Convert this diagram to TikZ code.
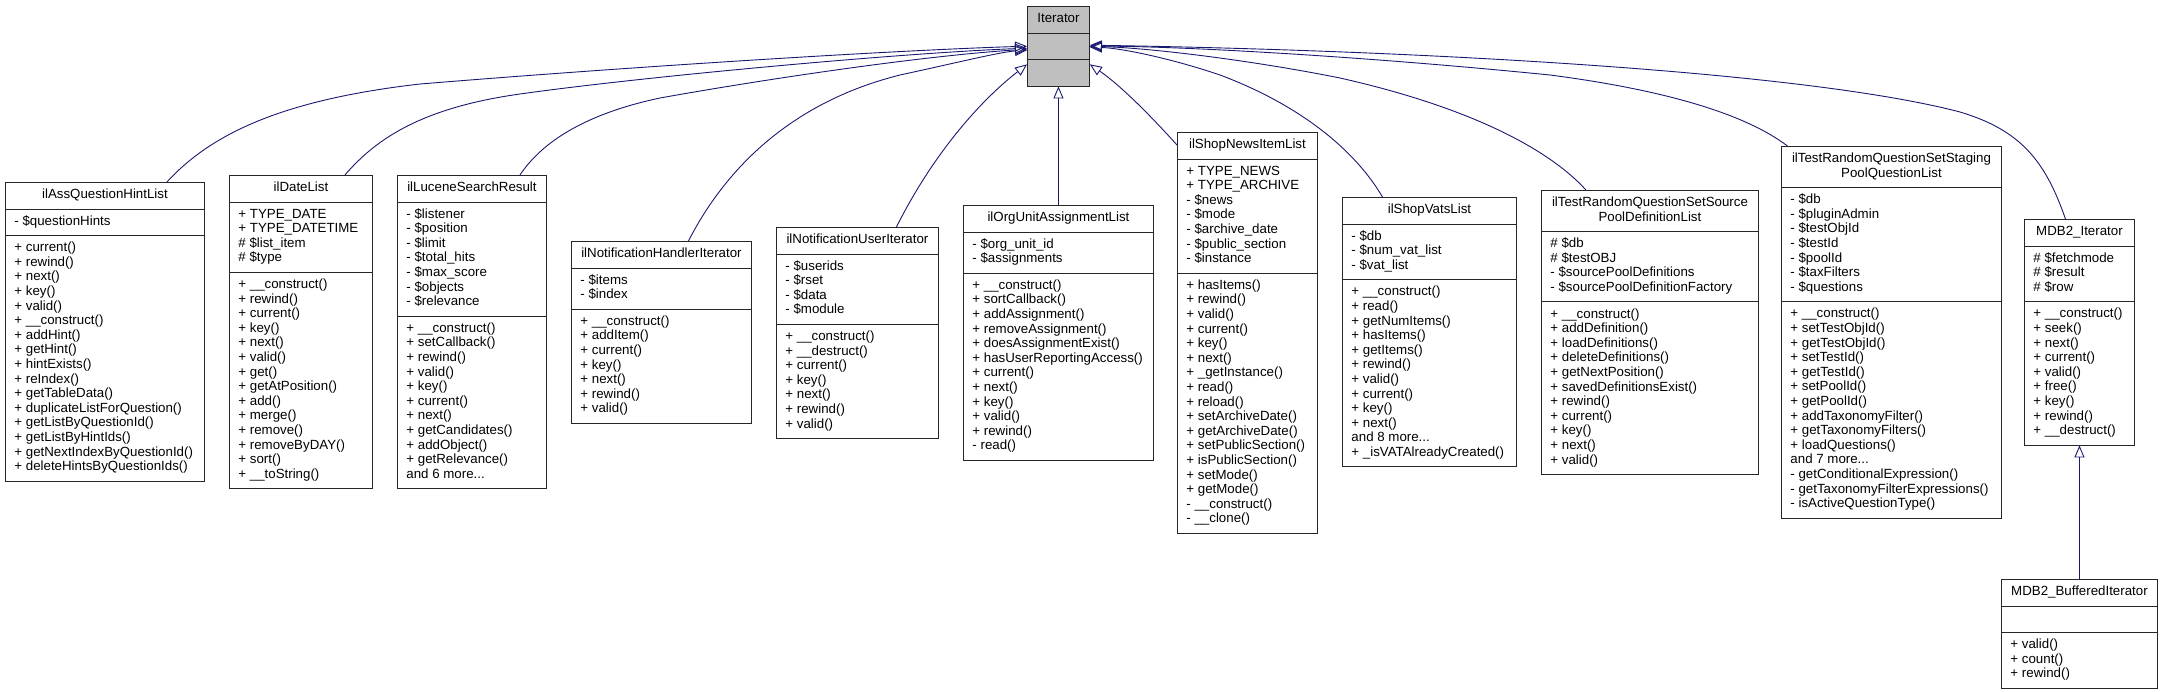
\documentclass[tikz,border=0pt]{standalone}
\usepackage{fontspec}
\setmainfont{Liberation Sans}
\usetikzlibrary{shapes.multipart,arrows.meta}

\definecolor{edgeblue}{HTML}{191970}
\definecolor{basegray}{HTML}{BFBFBF}

\newcommand{\classtitle}[1]{\begin{tabular}{@{}c@{}}#1\end{tabular}}
\newcommand{\classmembers}[1]{\begin{tabular}{@{}l@{}}#1\end{tabular}}

\tikzset{
	classbox/.style={rectangle split, rectangle split parts=3, rectangle split part align={center,left,left}, draw=black!85, line width=0.9pt, fill=white, anchor=north west, inner xsep=9pt, inner ysep=5.5pt, font=\fontsize{13.3}{14.6}\selectfont},
	derives/.style={draw=edgeblue, line width=0.9pt, -{Triangle[open,length=12pt,width=10pt]}}
}

\begin{document}
\begin{tikzpicture}[x=1pt, y=-1pt]
		
		\useasboundingbox (0,0) rectangle (2163,691);
		
		% Base class
		\node (iterator) at (1027,6) [classbox, fill=basegray, minimum width=62pt]{\classtitle{Iterator}\nodepart{two}\strut\nodepart{three}\strut};
		
		% Derived classes, left of the base class
		\node (hintList) at (5,182) [classbox, minimum width=199pt]{\classtitle{ilAssQuestionHintList}\nodepart{two}\classmembers{- \$questionHints}\nodepart{three}\classmembers{+ current()\\+ rewind()\\+ next()\\+ key()\\+ valid()\\+ \_\_construct()\\+ addHint()\\+ getHint()\\+ hintExists()\\+ reIndex()\\+ getTableData()\\+ duplicateListForQuestion()\\+ getListByQuestionId()\\+ getListByHintIds()\\+ getNextIndexByQuestionId()\\+ deleteHintsByQuestionIds()}};
		\node (dateList) at (229,175) [classbox, minimum width=143pt]{\classtitle{ilDateList}\nodepart{two}\classmembers{+ TYPE\_DATE\\+ TYPE\_DATETIME\\\# \$list\_item\\\# \$type}\nodepart{three}\classmembers{+ \_\_construct()\\+ rewind()\\+ current()\\+ key()\\+ next()\\+ valid()\\+ get()\\+ getAtPosition()\\+ add()\\+ merge()\\+ remove()\\+ removeByDAY()\\+ sort()\\+ \_\_toString()}};
		\node (luceneResult) at (397,175) [classbox, minimum width=149pt]{\classtitle{ilLuceneSearchResult}\nodepart{two}\classmembers{- \$listener\\- \$position\\- \$limit\\- \$total\_hits\\- \$max\_score\\- \$objects\\- \$relevance}\nodepart{three}\classmembers{+ \_\_construct()\\+ setCallback()\\+ rewind()\\+ valid()\\+ key()\\+ current()\\+ next()\\+ getCandidates()\\+ addObject()\\+ getRelevance()\\and 6 more...}};
		\node (handlerIter) at (571,241) [classbox, minimum width=180pt]{\classtitle{ilNotificationHandlerIterator}\nodepart{two}\classmembers{- \$items\\- \$index}\nodepart{three}\classmembers{+ \_\_construct()\\+ addItem()\\+ current()\\+ key()\\+ next()\\+ rewind()\\+ valid()}};
		\node (userIter) at (776,227) [classbox, minimum width=162pt]{\classtitle{ilNotificationUserIterator}\nodepart{two}\classmembers{- \$userids\\- \$rset\\- \$data\\- \$module}\nodepart{three}\classmembers{+ \_\_construct()\\+ \_\_destruct()\\+ current()\\+ key()\\+ next()\\+ rewind()\\+ valid()}};
		\node (orgUnitList) at (963,205) [classbox, minimum width=190pt]{\classtitle{ilOrgUnitAssignmentList}\nodepart{two}\classmembers{- \$org\_unit\_id\\- \$assignments}\nodepart{three}\classmembers{+ \_\_construct()\\+ sortCallback()\\+ addAssignment()\\+ removeAssignment()\\+ doesAssignmentExist()\\+ hasUserReportingAccess()\\+ current()\\+ next()\\+ key()\\+ valid()\\+ rewind()\\- read()}};
		
		% Derived classes, right of the base class
		\node (newsList) at (1177,132) [classbox, minimum width=140pt]{\classtitle{ilShopNewsItemList}\nodepart{two}\classmembers{+ TYPE\_NEWS\\+ TYPE\_ARCHIVE\\- \$news\\- \$mode\\- \$archive\_date\\- \$public\_section\\- \$instance}\nodepart{three}\classmembers{+ hasItems()\\+ rewind()\\+ valid()\\+ current()\\+ key()\\+ next()\\+ \_getInstance()\\+ read()\\+ reload()\\+ setArchiveDate()\\+ getArchiveDate()\\+ setPublicSection()\\+ isPublicSection()\\+ setMode()\\+ getMode()\\- \_\_construct()\\- \_\_clone()}};
		\node (vatsList) at (1342,197) [classbox, minimum width=174pt]{\classtitle{ilShopVatsList}\nodepart{two}\classmembers{- \$db\\- \$num\_vat\_list\\- \$vat\_list}\nodepart{three}\classmembers{+ \_\_construct()\\+ read()\\+ getNumItems()\\+ hasItems()\\+ getItems()\\+ rewind()\\+ valid()\\+ current()\\+ key()\\+ next()\\and 8 more...\\+ \_isVATAlreadyCreated()}};
		\node (sourcePoolList) at (1541,190) [classbox, minimum width=217pt]{\classtitle{ilTestRandomQuestionSetSource\\PoolDefinitionList}\nodepart{two}\classmembers{\# \$db\\\# \$testOBJ\\- \$sourcePoolDefinitions\\- \$sourcePoolDefinitionFactory}\nodepart{three}\classmembers{+ \_\_construct()\\+ addDefinition()\\+ loadDefinitions()\\+ deleteDefinitions()\\+ getNextPosition()\\+ savedDefinitionsExist()\\+ rewind()\\+ current()\\+ key()\\+ next()\\+ valid()}};
		\node (stagingPoolList) at (1781,146) [classbox, minimum width=220pt]{\classtitle{ilTestRandomQuestionSetStaging\\PoolQuestionList}\nodepart{two}\classmembers{- \$db\\- \$pluginAdmin\\- \$testObjId\\- \$testId\\- \$poolId\\- \$taxFilters\\- \$questions}\nodepart{three}\classmembers{+ \_\_construct()\\+ setTestObjId()\\+ getTestObjId()\\+ setTestId()\\+ getTestId()\\+ setPoolId()\\+ getPoolId()\\+ addTaxonomyFilter()\\+ getTaxonomyFilters()\\+ loadQuestions()\\and 7 more...\\- getConditionalExpression()\\- getTaxonomyFilterExpressions()\\- isActiveQuestionType()}};
		\node (mdbIter) at (2024,219) [classbox, minimum width=110pt]{\classtitle{MDB2\_Iterator}\nodepart{two}\classmembers{\# \$fetchmode\\\# \$result\\\# \$row}\nodepart{three}\classmembers{+ \_\_construct()\\+ seek()\\+ next()\\+ current()\\+ valid()\\+ free()\\+ key()\\+ rewind()\\+ \_\_destruct()}};
		
		% Second level
		\node (bufferedIter) at (2001,579) [classbox, minimum width=156pt]{\classtitle{MDB2\_BufferedIterator}\nodepart{two}\strut\nodepart{three}\classmembers{+ valid()\\+ count()\\+ rewind()}};
		
		% Inheritance edges on the left
		\draw[derives] ([xshift=62pt]hintList.north) .. controls (210,135) and (280,100) .. (420,84) .. controls (640,66) and (900,50) .. (iterator.west);
		\draw[derives] ([xshift=44pt]dateList.north) .. controls (375,140) and (420,108) .. (520,94) .. controls (640,77) and (900,53) .. ([yshift=-2pt]iterator.west);
		\draw[derives] ([xshift=48pt]luceneResult.north) .. controls (540,145) and (580,115) .. (660,98) .. controls (760,80) and (920,56) .. ([yshift=-3pt]iterator.west);
		\draw[derives] ([xshift=27pt]handlerIter.north) .. controls (730,160) and (800,100) .. (900,75) .. controls (960,62) and (1000,52) .. ([yshift=-4pt]iterator.west);
		\draw[derives] ([xshift=39pt]userIter.north) .. controls (930,160) and (975,105) .. (iterator.210);
		\draw[derives] (orgUnitList.north) -- (iterator.south);
		
		% Inheritance edges on the right
		\draw[derives] ([yshift=-13pt]newsList.north west) .. controls (1150,115) and (1120,85) .. (iterator.-30);
		\draw[derives] ([xshift=-47pt]vatsList.north) .. controls (1355,150) and (1300,105) .. (1220,75) .. controls (1170,58) and (1120,48) .. ([yshift=-1pt]iterator.east);
		\draw[derives] ([xshift=-64pt]sourcePoolList.north) .. controls (1545,145) and (1460,105) .. (1340,78) .. controls (1250,60) and (1150,48) .. (iterator.east);
		\draw[derives] ([xshift=-104pt]stagingPoolList.north) .. controls (1740,110) and (1650,88) .. (1550,75) .. controls (1350,55) and (1170,46) .. (iterator.east);
		\draw[derives] ([xshift=-14pt]mdbIter.north) .. controls (2045,160) and (2020,130) .. (1960,112) .. controls (1800,70) and (1400,50) .. ([yshift=1pt]iterator.east);
		
		% MDB2 edge
		\draw[derives] (bufferedIter.north) -- (mdbIter.south);
		
\end{tikzpicture}
\end{document}
